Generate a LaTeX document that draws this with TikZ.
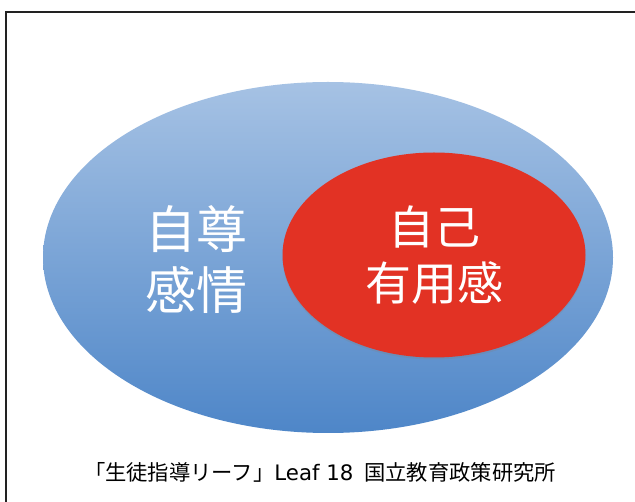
\documentclass[tikz,border=0pt]{standalone}
\usepackage{fontspec}
\setmainfont{Noto Sans CJK JP}
\newfontfamily\latinfont{DejaVu Sans}
\usetikzlibrary{shapes.geometric,shadows}
\definecolor{bluetop}{RGB}{166,194,228}
\definecolor{bluebot}{RGB}{78,134,200}
\definecolor{redfill}{RGB}{226,50,36}
\definecolor{framecol}{RGB}{34,34,34}
\tikzset{
  outerell/.style={ellipse, inner sep=0pt, minimum width=570pt, minimum height=351pt,
    top color=bluetop, bottom color=bluebot, draw=none},
  innerell/.style={ellipse, inner sep=0pt, minimum width=303pt, minimum height=205pt,
    fill=redfill, draw=none, text=white, align=center,
    font=\fontsize{46}{56}\selectfont,
    drop shadow={opacity=0.25, shadow xshift=0pt, shadow yshift=-2pt}},
  bigtext/.style={text=white, align=center, inner sep=0pt, font=\fontsize{51}{61}\selectfont},
  caption/.style={text=black, inner sep=0pt, font=\fontsize{21.3}{25}\selectfont}
}
\begin{document}
\begin{tikzpicture}[x=1pt,y=-1pt]
\useasboundingbox (0,0) rectangle (635,502);
\fill[white] (0,0) rectangle (635,502);
\draw[framecol, line width=1.5pt] (6,530) -- (6,12) -- (660,12);
\node[outerell] (outer) at (328,257.5) {};
\node[innerell] (inner) at (434,255) {自己\\有用感};
\node[bigtext] (left) at (196,260) {自尊\\感情};
\node[caption] (cap) at (320,472) {「生徒指導リーフ」{\latinfont Leaf 18\hspace{4pt} }国立教育政策研究所};
\end{tikzpicture}
\end{document}
